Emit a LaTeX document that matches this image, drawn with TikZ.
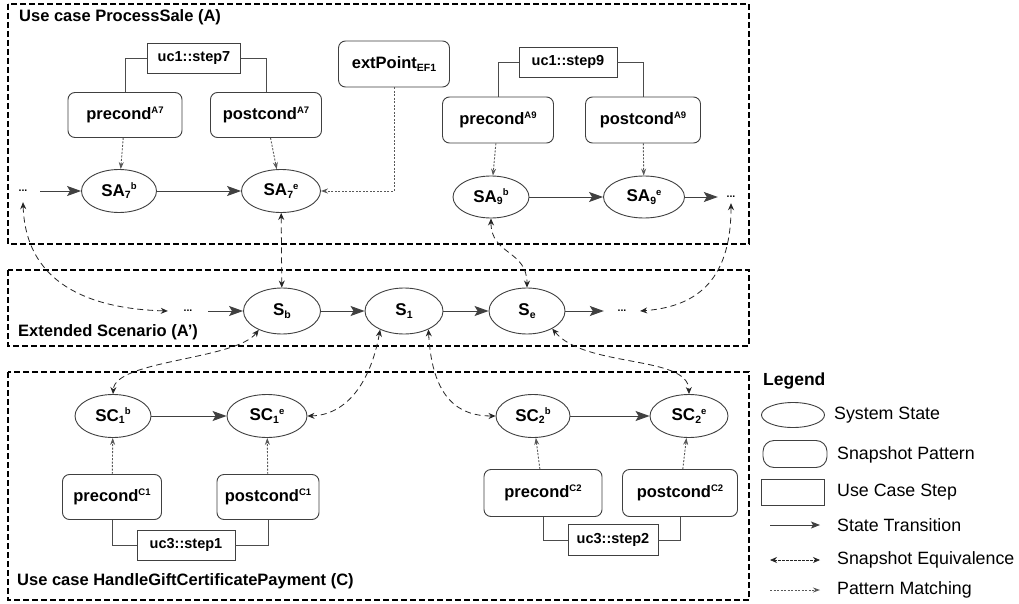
\documentclass[tikz,border=0pt]{standalone}
\usepackage{fontspec}
\setmainfont{Liberation Sans}
\usetikzlibrary{shapes.geometric,arrows.meta}
\newcommand\mysup[1]{\raisebox{6.5pt}{\fontsize{9.5}{9.5}\selectfont #1}}
\newcommand\mysub[1]{\raisebox{-2.5pt}{\fontsize{10.5}{10.5}\selectfont #1}}
\tikzset{
  sysstate/.style={ellipse, draw=black!75, line width=0.9pt, inner sep=0pt, font=\bfseries\fontsize{17}{17}\selectfont},
  snappat/.style={rectangle, rounded corners=7pt, draw=black!75, line width=0.9pt, inner sep=0pt, font=\bfseries\fontsize{16.5}{16.5}\selectfont},
  stepbox/.style={rectangle, draw=black!75, line width=0.9pt, inner sep=0pt, font=\bfseries\fontsize{14.5}{14.5}\selectfont},
  transarrow/.style={draw=black!75, line width=0.9pt, -{Stealth[length=14pt,width=10pt,inset=3pt]}},
  equivarrow/.style={draw=black!85, line width=0.8pt, dash pattern=on 6pt off 4pt, {Stealth[length=7pt,width=6pt]}-{Stealth[length=7pt,width=6pt]}},
  matcharrow/.style={draw=black!65, line width=0.9pt, dash pattern=on 2pt off 1.5pt, -{Stealth[length=7pt,width=5pt]}},
  stepline/.style={draw=black!70, line width=0.9pt},
  scenario/.style={draw=black, line width=2pt, dash pattern=on 6pt off 3pt},
  boxtitle/.style={anchor=west, inner sep=0pt, font=\bfseries\fontsize{16.5}{16.5}\selectfont},
  ellipsis/.style={inner sep=0pt, font=\bfseries\fontsize{10.5}{10.5}\selectfont},
  legtext/.style={anchor=west, inner sep=0pt, font=\fontsize{17.8}{17.8}\selectfont},
}
\begin{document}
\begin{tikzpicture}[x=1pt,y=-1pt]
\useasboundingbox[fill=white] (0,0) rectangle (1019,604);

% containers
\draw[scenario] (8,4) rectangle (749,244);
\draw[scenario] (8,270) rectangle (749,346);
\draw[scenario] (8,372) rectangle (749,600);

\node[boxtitle] (titleA) at (19,17) {Use case ProcessSale (A)};
\node[boxtitle] (titleM) at (18,332) {Extended Scenario (A’)};
\node[boxtitle] (titleC) at (17,581) {Use case HandleGiftCertificatePayment (C)};

% ---- Use case A
\node[stepbox, minimum width=93pt, minimum height=30pt] (step7) at (194,58) {uc1::step7};
\node[snappat, minimum width=114pt, minimum height=45pt] (preA7) at (125,115) {precond\mysup{A7}};
\node[snappat, minimum width=111pt, minimum height=45pt] (postA7) at (266,115) {postcond\mysup{A7}};
\node[snappat, minimum width=111pt, minimum height=46pt] (ext) at (394,64) {extPoint\mysub{EF1}};
\node[sysstate, minimum width=75pt, minimum height=43pt] (SA7b) at (119,191) {SA\mysub{7}\mysup{b}};
\node[sysstate, minimum width=79pt, minimum height=43pt] (SA7e) at (281,191) {SA\mysub{7}\mysup{e}};
\node[ellipsis, minimum width=34pt, minimum height=22pt] (dotsAL) at (23,191) {...};

\node[stepbox, minimum width=98pt, minimum height=30pt] (step9) at (568,62) {uc1::step9};
\node[snappat, minimum width=111pt, minimum height=46pt] (preA9) at (498,120) {precond\mysup{A9}};
\node[snappat, minimum width=115pt, minimum height=46pt] (postA9) at (643,120) {postcond\mysup{A9}};
\node[sysstate, minimum width=76pt, minimum height=42pt] (SA9b) at (491,197) {SA\mysub{9}\mysup{b}};
\node[sysstate, minimum width=81pt, minimum height=42pt] (SA9e) at (644,197) {SA\mysub{9}\mysup{e}};
\node[ellipsis, minimum width=26pt, minimum height=12pt] (dotsAR) at (731,197) {...};

\draw[stepline] (step7.west) -| (preA7.north);
\draw[stepline] (step7.east) -| (postA7.north);
\draw[stepline] (step9.west) -| (preA9.north);
\draw[stepline] (step9.east) -| (postA9.north);

\draw[transarrow] (dotsAL) -- (SA7b);
\draw[transarrow] (SA7b) -- (SA7e);
\draw[transarrow] (SA9b) -- (SA9e);
\draw[transarrow] (SA9e) -- (dotsAR);

\draw[matcharrow] (preA7) -- (SA7b);
\draw[matcharrow] (postA7) -- (SA7e);
\draw[matcharrow] (ext.south) |- (SA7e.east);
\draw[matcharrow] (preA9) -- (SA9b);
\draw[matcharrow] (postA9) -- (SA9e);

% ---- Extended scenario
\node[ellipsis, minimum width=40pt, minimum height=10pt] (dotsML) at (188,311) {...};
\node[sysstate, minimum width=77pt, minimum height=46pt] (Sb) at (282,311) {S\mysub{b}};
\node[sysstate, minimum width=78pt, minimum height=46pt] (S1) at (404,311) {S\mysub{1}};
\node[sysstate, minimum width=76pt, minimum height=46pt] (Se) at (527,311) {S\mysub{e}};
\node[ellipsis, minimum width=36pt, minimum height=10pt] (dotsMR) at (622,311) {...};

\draw[transarrow] (dotsML) -- (Sb);
\draw[transarrow] (Sb) -- (S1);
\draw[transarrow] (S1) -- (Se);
\draw[transarrow] (Se) -- (dotsMR);

% ---- Use case C
\node[sysstate, minimum width=76pt, minimum height=43pt] (SC1b) at (113,416) {SC\mysub{1}\mysup{b}};
\node[sysstate, minimum width=80pt, minimum height=43pt] (SC1e) at (267,416) {SC\mysub{1}\mysup{e}};
\node[snappat, minimum width=99pt, minimum height=45pt] (preC1) at (112,497) {precond\mysup{C1}};
\node[snappat, minimum width=102pt, minimum height=45pt] (postC1) at (268,497) {postcond\mysup{C1}};
\node[stepbox, minimum width=98pt, minimum height=30pt] (step1) at (186,545) {uc3::step1};

\node[sysstate, minimum width=74pt, minimum height=43pt] (SC2b) at (533,416) {SC\mysub{2}\mysup{b}};
\node[sysstate, minimum width=78pt, minimum height=43pt] (SC2e) at (689,416) {SC\mysub{2}\mysup{e}};
\node[snappat, minimum width=118pt, minimum height=47pt] (preC2) at (543,493) {precond\mysup{C2}};
\node[snappat, minimum width=115pt, minimum height=47pt] (postC2) at (680,493) {postcond\mysup{C2}};
\node[stepbox, minimum width=90pt, minimum height=31pt] (step2) at (613,540) {uc3::step2};

\draw[stepline] (preC1.south) |- (step1.west);
\draw[stepline] (postC1.south) |- (step1.east);
\draw[stepline] (preC2.south) |- (step2.west);
\draw[stepline] (postC2.south) |- (step2.east);

\draw[transarrow] (SC1b) -- (SC1e);
\draw[transarrow] (SC2b) -- (SC2e);

\draw[matcharrow] (preC1) -- (SC1b);
\draw[matcharrow] (postC1) -- (SC1e);
\draw[matcharrow] (preC2) -- (SC2b);
\draw[matcharrow] (postC2) -- (SC2e);

% ---- snapshot equivalences
\draw[equivarrow] (dotsAL.south) .. controls (26,290) and (100,309) .. (dotsML.west);
\draw[equivarrow] (SA7e) -- (Sb);
\draw[equivarrow] (SA9b.south) .. controls (491,255) and (527,250) .. (Se.north);
\draw[equivarrow] (dotsAR.south) .. controls (731,285) and (692,307) .. (dotsMR.east);
\draw[equivarrow] (Sb.-141) .. controls (235,360) and (115,360) .. (SC1b.north);
\draw[equivarrow] (S1.-142) .. controls (370,385) and (345,415) .. (SC1e.east);
\draw[equivarrow] (S1.-37) .. controls (432,400) and (460,416) .. (SC2b.west);
\draw[equivarrow] (Se.-35) .. controls (585,368) and (688,355) .. (SC2e.north);

% ---- legend
\node[anchor=west, inner sep=0pt, font=\bfseries\fontsize{17.5}{17.5}\selectfont] (legtitle) at (763,381) {Legend};
\node[sysstate, minimum width=63pt, minimum height=25pt] (legS) at (793,415) {};
\node[legtext] (legSt) at (834,415) {System State};
\node[snappat, rounded corners=11pt, minimum width=64pt, minimum height=27pt] (legP) at (795,454) {};
\node[legtext] (legPt) at (837,455) {Snapshot Pattern};
\node[stepbox, minimum width=63pt, minimum height=26pt] (legU) at (793,492) {};
\node[legtext] (legUt) at (837,492) {Use Case Step};
\coordinate (lta) at (770,525); \coordinate (ltb) at (820,525);
\draw[draw=black!75, line width=0.9pt, -{Stealth[length=9pt,width=7pt,inset=2pt]}] (lta) -- (ltb);
\node[legtext] (legTt) at (837,525) {State Transition};
\coordinate (lea) at (770,560); \coordinate (leb) at (820,560);
\draw[draw=black!85, line width=0.8pt, dash pattern=on 2.5pt off 1.5pt, {Stealth[length=7pt,width=6pt]}-{Stealth[length=7pt,width=6pt]}] (lea) -- (leb);
\node[legtext] (legEt) at (837,560) {Snapshot Equivalence};
\coordinate (lma) at (770,590); \coordinate (lmb) at (820,590);
\draw[matcharrow] (lma) -- (lmb);
\node[legtext] (legMt) at (837,590) {Pattern Matching};
\end{tikzpicture}
\end{document}
